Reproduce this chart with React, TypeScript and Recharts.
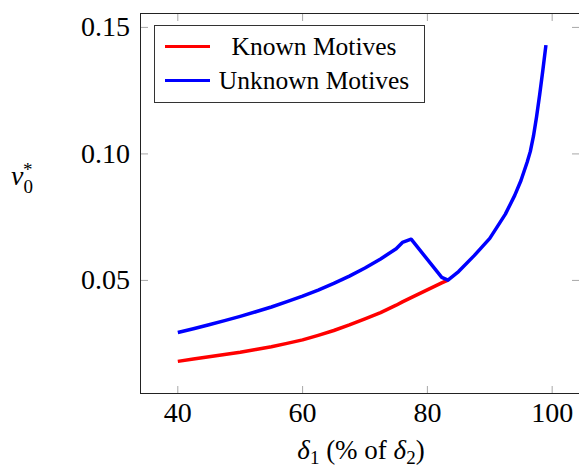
import React from 'react';
import { LineChart, Line, XAxis, YAxis, Legend, Label } from 'recharts';

const xValues = [40, 42.5, 45, 47.5, 50, 52.5, 55, 57.5, 60, 62.5, 65, 67.5, 70, 72.5, 75, 76, 77.4, 82.3, 83.3, 85, 87.5, 90, 92.5, 94, 95, 96, 96.5, 97, 97.5, 98, 98.5, 99];
const knownMotives = [0.018, 0.0189, 0.0198, 0.0207, 0.0216, 0.0227, 0.0238, 0.0251, 0.0265, 0.0283, 0.0302, 0.0324, 0.0348, 0.0373, 0.0402, 0.0415, 0.0432, 0.049, 0.0501, null, null, null, null, null, null, null, null, null, null, null, null, null];
const unknownMotives = [0.0294, 0.0309, 0.0325, 0.0341, 0.0358, 0.0376, 0.0395, 0.0416, 0.0438, 0.0462, 0.0488, 0.0517, 0.0549, 0.0585, 0.0625, 0.065, 0.0663, 0.0512, 0.0501, 0.0535, 0.0598, 0.0666, 0.0762, 0.0836, 0.0895, 0.0968, 0.101, 0.107, 0.1147, 0.1235, 0.133, 0.143];
const xTicks = [40, 60, 80, 100];
const yTicks = [0.05, 0.1, 0.15];

const data = xValues.map((x, i) => ({ x, known: knownMotives[i], unknown: unknownMotives[i] }));

const FONT = '"Liberation Serif", "DejaVu Serif", serif';
const W = 579;
const H = 468;
const PLOT_LEFT = 141;
const PLOT_TOP = 14;
const PLOT_W = 438;
const PLOT_H = 379;
const TICK = 7;
const TICK_COLOR = '#a8a8a8';

function XTick(props: any) {
  const { x, y, payload } = props;
  return (
    <g>
      <line x1={x} y1={y} x2={x} y2={y - TICK} stroke={TICK_COLOR} strokeWidth={1} />
      <line x1={x} y1={y - PLOT_H} x2={x} y2={y - PLOT_H + TICK} stroke={TICK_COLOR} strokeWidth={1} />
      <text x={x} y={y + 29} textAnchor="middle" fontFamily={FONT} fontSize={28} fill="#000">
        {payload.value}
      </text>
    </g>
  );
}

function YTick(props: any) {
  const { x, y, payload } = props;
  return (
    <g>
      <line x1={x} y1={y} x2={x + TICK} y2={y} stroke={TICK_COLOR} strokeWidth={1} />
      <line x1={x + PLOT_W} y1={y} x2={x + PLOT_W - TICK} y2={y} stroke={TICK_COLOR} strokeWidth={1} />
      <text x={x - 11} y={y + 9} textAnchor="end" fontFamily={FONT} fontSize={28} fill="#000">
        {payload.value.toFixed(2)}
      </text>
    </g>
  );
}

function LegendBox() {
  const items = [
    { color: 'red', label: 'Known Motives' },
    { color: 'blue', label: 'Unknown Motives' },
  ];
  return (
    <div
      style={{
        border: '1px solid #333',
        background: '#fff',
        width: 269,
        height: 72,
        boxSizing: 'content-box',
        fontFamily: FONT,
        fontSize: 25.5,
        padding: '2px 0',
      }}
    >
      {items.map((it) => (
        <div key={it.label} style={{ display: 'flex', alignItems: 'center', height: 31, marginTop: 3 }}>
          <div style={{ width: 45, height: 3.5, background: it.color, marginLeft: 10 }} />
          <div style={{ flex: 1, textAlign: 'center', paddingRight: 6, whiteSpace: 'nowrap' }}>{it.label}</div>
        </div>
      ))}
    </div>
  );
}

export default function App() {
  return (
    <div style={{ position: 'relative', width: W, height: H, background: '#fff' }}>
      <style>{'body{margin:0;}'}</style>
      <LineChart width={W} height={H} data={data} margin={{ top: PLOT_TOP, right: 0, bottom: 0, left: 0 }}>
        <XAxis
          dataKey="x"
          type="number"
          domain={[34.1, 104.3]}
          ticks={xTicks}
          tick={<XTick />}
          tickLine={false}
          axisLine={false}
          tickSize={0}
          tickMargin={0}
          height={H - PLOT_TOP - PLOT_H}
          interval={0}
        >
          <Label
            content={() => (
              <text x={361} y={459} textAnchor="middle" fontFamily={FONT} fontSize={27} fill="#000">
                <tspan fontStyle="italic">δ</tspan>
                <tspan fontSize={19} dy={5}>1</tspan>
                <tspan dy={-5}> (% of </tspan>
                <tspan fontStyle="italic">δ</tspan>
                <tspan fontSize={19} dy={5}>2</tspan>
                <tspan dy={-5}>)</tspan>
              </text>
            )}
          />
        </XAxis>
        <YAxis
          type="number"
          domain={[0.0055, 0.1553]}
          ticks={yTicks}
          tick={<YTick />}
          tickLine={false}
          axisLine={false}
          tickSize={0}
          tickMargin={0}
          width={PLOT_LEFT}
          interval={0}
        >
          <Label
            content={() => (
              <text x={11} y={185} fontFamily={FONT} fontSize={28} fill="#000">
                <tspan fontStyle="italic">v</tspan>
                <tspan fontSize={19} dy={8}>0</tspan>
                <tspan fontSize={19} dx={-10} dy={-17}>*</tspan>
              </text>
            )}
          />
        </YAxis>
        <Legend
          layout="horizontal"
          verticalAlign="middle"
          align="center"
          wrapperStyle={{ top: 25, left: 154, width: 271 }}
          content={() => <LegendBox />}
        />
        <Line dataKey="known" stroke="red" strokeWidth={3.5} strokeLinejoin="round" dot={false} type="linear" isAnimationActive={false} />
        <Line dataKey="unknown" stroke="blue" strokeWidth={3.5} strokeLinejoin="round" dot={false} type="linear" isAnimationActive={false} />
      </LineChart>
      <div
        style={{
          position: 'absolute',
          left: PLOT_LEFT - 1,
          top: PLOT_TOP - 1,
          width: PLOT_W + 2,
          height: PLOT_H + 2,
          border: '1px solid #222',
          boxSizing: 'border-box',
          pointerEvents: 'none',
        }}
      />
    </div>
  );
}
